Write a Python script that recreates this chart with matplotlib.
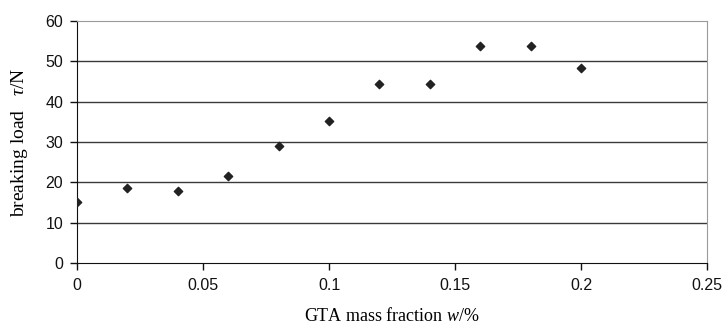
import matplotlib
matplotlib.use("Agg")
import matplotlib.pyplot as plt

plt.rcParams["mathtext.fontset"] = "custom"
plt.rcParams["mathtext.rm"] = "Liberation Serif"
plt.rcParams["mathtext.it"] = "Liberation Serif:italic"

w = [0, 0.02, 0.04, 0.06, 0.08, 0.10, 0.12, 0.14, 0.16, 0.18, 0.20]
tau = [15.1, 18.6, 17.9, 21.6, 29.1, 35.3, 44.5, 44.5, 53.8, 53.8, 48.4]
xticks = [0, 0.05, 0.1, 0.15, 0.2, 0.25]
xticklabels = ["0", "0.05", "0.1", "0.15", "0.2", "0.25"]
yticks = [0, 10, 20, 30, 40, 50, 60]

fig = plt.figure(figsize=(7.26, 3.29), dpi=100)
ax = fig.add_axes([0.106, 0.2006, 0.868, 0.7354])
ax.set_xlim(0, 0.25)
ax.set_ylim(0, 60)
ax.set_xticks(xticks)
ax.set_xticklabels(xticklabels)
ax.set_yticks(yticks)
for y in yticks[1:-1]:
    ax.axhline(y, color="#3a3a3a", lw=1.0, zorder=1)
ax.scatter(w, tau, marker="D", s=18, color="#222222", zorder=3)

ax.spines["top"].set_color("#9a9a9a")
ax.spines["right"].set_color("#9a9a9a")
ax.spines["left"].set_color("#111111")
ax.spines["bottom"].set_color("#111111")
ax.tick_params(direction="out", length=5, width=1, colors="#111111",
               labelsize=11.5)
for lab in ax.get_xticklabels() + ax.get_yticklabels():
    lab.set_family("Liberation Sans")
ax.tick_params(axis="x", pad=6)
ax.tick_params(axis="y", pad=5)
ax.set_xlabel("GTA mass fraction $w$/%", family="Liberation Serif", fontsize=13, labelpad=10)
ax.set_ylabel("breaking load   $\\tau$/N", family="Liberation Serif", fontsize=14, labelpad=11)
fig.savefig("out.png", dpi=100)
